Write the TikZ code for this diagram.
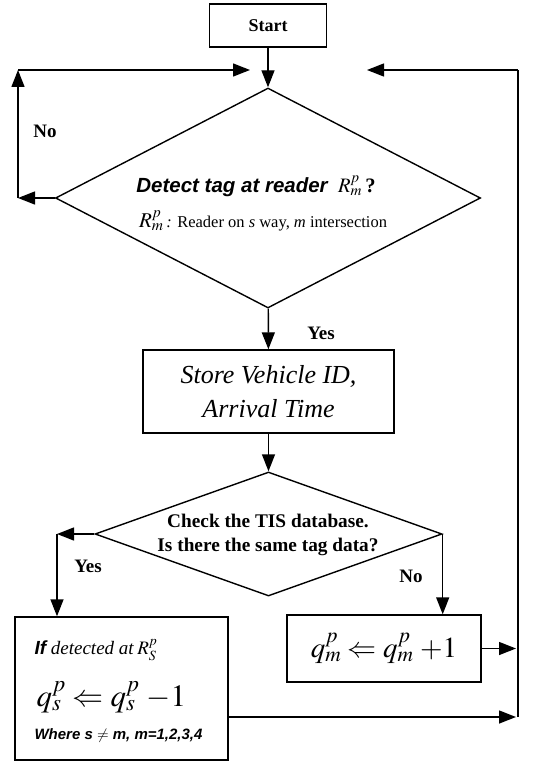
\documentclass[tikz,border=0pt]{standalone}
\usepackage{mathptmx}
\usepackage{fontspec}
\setmainfont{Liberation Serif}
\newfontfamily\arialfont{Liberation Sans}
\usetikzlibrary{shapes.geometric,arrows.meta}

\begin{document}
\begin{tikzpicture}[x=1pt,y=-1pt,
 box/.style={draw,line width=1.4pt,inner sep=0pt},
 dia/.style={draw,diamond,line width=1.4pt,inner sep=0pt},
 link/.style={line width=1.4pt},
 arr/.style={line width=1.4pt,-{Triangle[length=17pt,width=13pt]}},
 lbl/.style={font=\fontsize{19}{21}\selectfont\bfseries}]
 \useasboundingbox (0,0) rectangle (544,765);
 % boxes and decisions
 \node[box,minimum width=117pt,minimum height=43pt,font=\fontsize{18}{20}\selectfont\bfseries] (start) at (268,25.5) {Start};
 \node[dia,minimum width=425pt,minimum height=220pt] (det) at (268,198) {};
 \node[font=\fontsize{20.5}{22}\selectfont] (dettxt) at (256,186) {{\arialfont\bfseries\itshape Detect tag at reader}\ \ $R^p_m$\,\textbf{?}};
 \node[font=\fontsize{16.5}{18}\selectfont] (detnote) at (263,221) {{\fontsize{21}{22}\selectfont$R^p_m$}\,\textit{:} Reader on \textit{s} way, \textit{m} intersection};
 \node[box,minimum width=251pt,minimum height=83pt,align=center,font=\fontsize{26}{34}\selectfont\itshape] (store) at (268.5,391.5) {Store Vehicle ID,\\Arrival Time};
 \node[dia,minimum width=347pt,minimum height=124pt] (chk) at (268.5,534) {};
 \node[align=center,font=\fontsize{19.3}{24}\selectfont\bfseries] (chktxt) at (268,535) {Check the TIS database.\\Is there the same tag data?};
 \node[box,minimum width=213pt,minimum height=143pt] (minus) at (121.5,688.5) {};
 \node[anchor=west,font=\fontsize{19}{21}\selectfont] (mtxt1) at (31,650) {{\arialfont\bfseries\itshape If} \textit{detected at}\,$R^p_S$};
 \node[anchor=west,font=\fontsize{31}{34}\selectfont] (mtxt2) at (33,697) {$q^p_s \Leftarrow q^p_s\;{-}1$};
 \node[anchor=west,font=\fontsize{15}{17}\selectfont\arialfont\bfseries\itshape] (mtxt3) at (31,736) {Where s $\neq$ m, m=1,2,3,4};
 \node[box,minimum width=194pt,minimum height=67pt,font=\fontsize{29}{32}\selectfont] (plus) at (384,648.5) {$q^p_m \Leftarrow q^p_m\;{+}1$};
 % labels
 \node[lbl] (no1) at (45,131) {No};
 \node[lbl] (yes1) at (321,333) {Yes};
 \node[lbl] (yes2) at (88,566) {Yes};
 \node[lbl] (no2) at (411,576) {No};
 % loop corners
 \coordinate (nl) at (18,198);
 \coordinate (nt) at (18,70);
 \coordinate (nj) at (250,70);
 \coordinate (yl) at (57,534);
 \coordinate (rb) at (518,717);
 \coordinate (rt) at (518,70);
 \coordinate (rj) at (367,70);
 % connectors
 \draw[arr] (start) -- (det);
 \draw[arr] (det) -- (store);
 \draw[arr] (store) -- (chk);
 \draw[arr] (det.west) -- (nl);
 \draw[arr] (nl) -- (nt);
 \draw[arr] (nt) -- (nj);
 \draw[arr] (chk.west) -- (yl);
 \draw[arr] (yl) -- (yl |- minus.north);
 \draw[arr] (chk.east) -- (chk.east |- plus.north);
 \draw[arr] (plus.east) -- ([xshift=-2pt]plus.east -| rb);
 \draw[arr] (minus.east |- rb) -- ([xshift=-2pt]rb);
 \draw[link] (rb) -- (rt);
 \draw[arr] (rt) -- (rj);
\end{tikzpicture}
\end{document}
